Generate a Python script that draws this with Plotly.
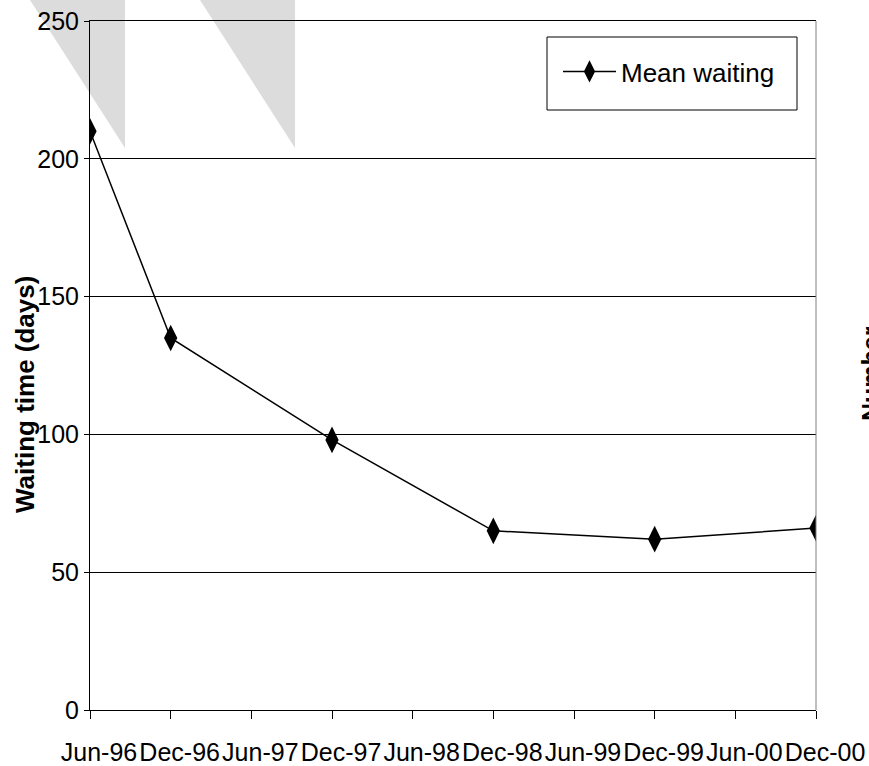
import plotly.graph_objects as go

# ---- data ----
periods = ["Jun-96", "Dec-96", "Jun-97", "Dec-97", "Jun-98",
           "Dec-98", "Jun-99", "Dec-99", "Jun-00", "Dec-00"]
mean_waiting = [210, 135, None, 98, None, 65, None, 62, None, 66]
series_name = "Mean waiting"
y_title = "Waiting time (days)"
y2_title = "Number"

W, H = 869, 766
L, R, T, B = 90, 816, 21, 710
FONT = "Arial, Liberation Sans, sans-serif"


def px(x):
    return (x - L) / (R - L)


def py(y):
    return (B - y) / (B - T)


fig = go.Figure()
fig.add_trace(go.Scatter(
    x=periods, y=mean_waiting, name=series_name,
    mode="lines+markers", connectgaps=True,
    line=dict(color="black", width=1.5),
    marker=dict(symbol="diamond-tall", size=19, color="black"),
    showlegend=True,
))

shapes = []
# watermark triangles
for (x0, x1) in [(30, 125), (200, 295)]:
    shapes.append(dict(
        type="path", xref="paper", yref="paper", layer="below",
        path=f"M{px(x0)},{py(0)} L{px(x1)},{py(0)} L{px(x1)},{py(148)} Z",
        fillcolor="#dcdcdc", line=dict(width=0),
    ))
# right frame
shapes.append(dict(type="line", xref="paper", yref="paper",
                   x0=1, x1=1, y0=0, y1=1,
                   line=dict(color="#808080", width=1)))
# legend box
shapes.append(dict(type="rect", xref="paper", yref="paper",
                   x0=px(547), x1=px(797), y0=py(110), y1=py(37),
                   line=dict(color="black", width=1), fillcolor="rgba(0,0,0,0)"))

fig.update_layout(
    width=W, height=H,
    margin=dict(l=L, r=W - R, t=T, b=H - B, autoexpand=False),
    paper_bgcolor="white", plot_bgcolor="white",
    font=dict(family=FONT, color="black", size=25),
    shapes=shapes,
    showlegend=True,
    legend=dict(x=px(558), y=py(48), xanchor="left", yanchor="top",
                bgcolor="rgba(0,0,0,0)", borderwidth=0,
                font=dict(size=26, family=FONT), itemwidth=53),
    annotations=[
        dict(text=f"<b>{y_title}</b>", xref="paper", yref="paper",
             x=px(25), y=py(395), xanchor="center", yanchor="middle",
             textangle=-90, showarrow=False, font=dict(size=26, family=FONT)),
        dict(text=f"<b>{y2_title}</b>", xref="paper", yref="paper",
             x=px(871), y=py(374), xanchor="center", yanchor="middle",
             textangle=-90, showarrow=False, font=dict(size=25, family=FONT)),
    ],
)
fig.update_xaxes(
    type="category", categoryorder="array", categoryarray=periods,
    range=[0, len(periods) - 1], automargin=False, tickangle=0,
    showline=True, linecolor="black", linewidth=1, mirror=True,
    ticks="outside", ticklen=8, tickcolor="black",
    showgrid=False, zeroline=False,
    tickfont=dict(size=25, family=FONT), ticklabelshift=9,
    ticklabelstandoff=12,
)
fig.update_yaxes(
    range=[0, 250], dtick=50, tick0=0, automargin=False,
    showline=True, linecolor="black", linewidth=1,
    ticks="outside", ticklen=5, tickcolor="black",
    showgrid=True, gridcolor="black", gridwidth=1, zeroline=False,
    tickfont=dict(size=25, family=FONT),
)

fig.write_html("out.html")
